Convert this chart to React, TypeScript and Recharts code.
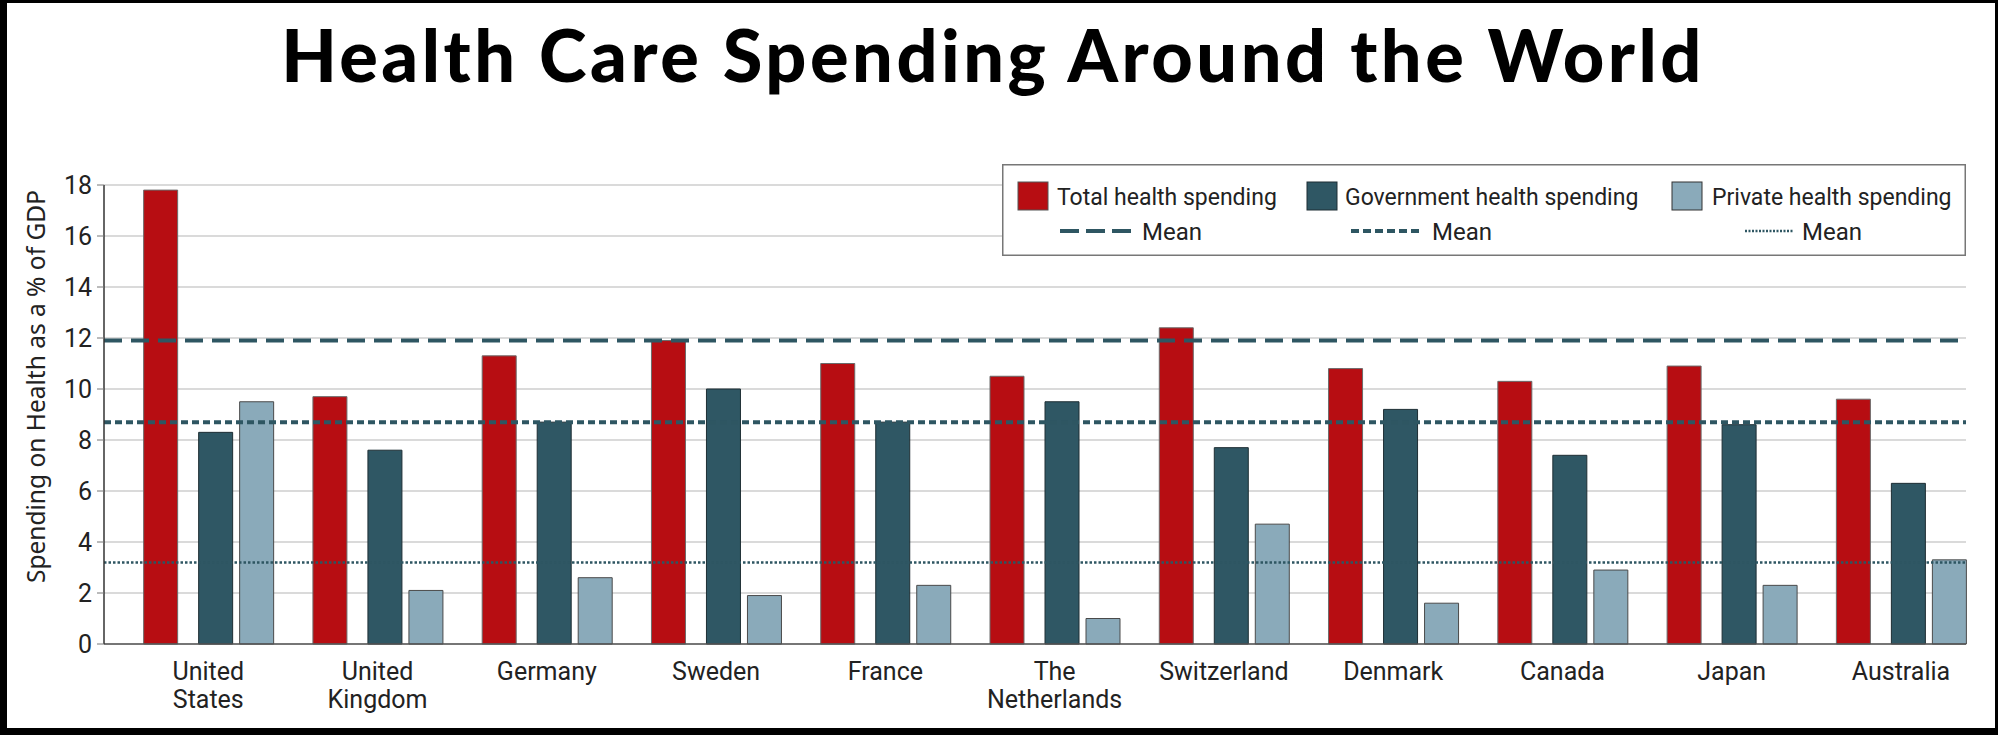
import { BarChart, Bar, XAxis, YAxis, CartesianGrid, ReferenceLine, Legend } from "recharts";

const countries = [
  "United States",
  "United Kingdom",
  "Germany",
  "Sweden",
  "France",
  "The Netherlands",
  "Switzerland",
  "Denmark",
  "Canada",
  "Japan",
  "Australia",
];
const totalSpending = [17.8, 9.7, 11.3, 11.9, 11.0, 10.5, 12.4, 10.8, 10.3, 10.9, 9.6];
const governmentSpending = [8.3, 7.6, 8.7, 10.0, 8.7, 9.5, 7.7, 9.2, 7.4, 8.6, 6.3];
const privateSpending = [9.5, 2.1, 2.6, 1.9, 2.3, 1.0, 4.7, 1.6, 2.9, 2.3, 3.3];

const totalMean = 11.9;
const governmentMean = 8.7;
const privateMean = 3.2;

const yTicks = [0, 2, 4, 6, 8, 10, 12, 14, 16, 18];

const RED = "#B70D12";
const TEAL = "#2F5764";
const LIGHT = "#8AAABA";
const MEAN = "#2E5662";

const COND = "Roboto, 'Liberation Sans Narrow', sans-serif";

const data = countries.map((name, i) => ({
  name,
  total: totalSpending[i],
  government: governmentSpending[i],
  private: privateSpending[i],
}));

const legendItems = [
  { label: "Total health spending", fill: RED, stroke: "#555", x: 16, textX: 55, meanX: 58, meanLen: 73, dash: "19 7", width: 4 },
  { label: "Government health spending", fill: TEAL, stroke: "#1e2e34", x: 305, textX: 343, meanX: 349, meanLen: 72, dash: "8 4", width: 4 },
  { label: "Private health spending", fill: LIGHT, stroke: "#333", x: 670, textX: 710, meanX: 743, meanLen: 48, dash: "2 1.5", width: 2.5 },
];

const LegendBox = () => (
  <svg width={964} height={92}>
    <rect x={0.75} y={0.75} width={962.5} height={90.5} fill="#fff" stroke="#777" strokeWidth={1.5} />
    {legendItems.map((item) => (
      <g key={item.label} fontFamily={COND} fontSize={23} fill="#222">
        <rect x={item.x} y={18} width={30} height={28} fill={item.fill} stroke={item.stroke} strokeWidth={1} />
        <text x={item.textX} y={41}>{item.label}</text>
        <line
          x1={item.meanX}
          x2={item.meanX + item.meanLen}
          y1={67}
          y2={67}
          stroke={MEAN}
          strokeWidth={item.width}
          strokeDasharray={item.dash}
        />
        <text x={item.meanX + item.meanLen + 9} y={76} fontSize={24}>Mean</text>
      </g>
    ))}
  </svg>
);

const CountryTick = ({ x, y, payload }: any) => {
  const words = String(payload.value).split(" ");
  const lines = words.length > 1 ? [words[0], words.slice(1).join(" ")] : words;
  return (
    <text x={x} y={y} textAnchor="middle" fill="#222" fontSize={25} fontFamily={COND}>
      {lines.map((line, i) => (
        <tspan key={i} x={x} dy={i === 0 ? 36 : 28}>
          {line}
        </tspan>
      ))}
    </text>
  );
};

const YTitle = ({ viewBox }: any) => {
  const cx = viewBox.x + 1;
  const cy = viewBox.y + viewBox.height / 2 - 28;
  return (
    <text
      x={cx}
      y={cy}
      transform={`rotate(-90 ${cx} ${cy})`}
      textAnchor="middle"
      fontFamily="'Noto Sans', 'Open Sans', sans-serif"
      fontSize={24.5}
      fill="#222"
    >
      Spending on Health as a % of GDP
    </text>
  );
};

export default function App() {
  return (
    <div style={{ position: "absolute", left: 0, top: 0, width: 1998, height: 735, background: "#fff" }}>
      <div
        style={{
          position: "absolute",
          left: 0,
          top: 18,
          width: 1986,
          textAlign: "center",
          fontFamily: "Lato, sans-serif",
          fontWeight: 900,
          fontSize: 72,
          letterSpacing: 3.5,
          lineHeight: "72px",
          color: "#000",
        }}
      >
        Health Care Spending Around the World
      </div>
      <BarChart
        width={1998}
        height={735}
        data={data}
        margin={{ top: 185, right: 32, bottom: 31, left: 44 }}
        barGap={7}
      >
        <CartesianGrid vertical={false} stroke="#dadada" strokeWidth={2} />
        <ReferenceLine y={totalMean} stroke={MEAN} strokeWidth={4} strokeDasharray="18 9" />
        <ReferenceLine y={governmentMean} stroke={MEAN} strokeWidth={4} strokeDasharray="7 4" />
        <ReferenceLine y={privateMean} stroke={MEAN} strokeWidth={2.5} strokeDasharray="2.5 2" />
        <XAxis
          dataKey="name"
          interval={0}
          height={60}
          tickSize={0}
          tickMargin={0}
          tickLine={false}
          axisLine={{ stroke: "#555", strokeWidth: 1.5 }}
          padding={{ left: 19.65, right: -19.65 }}
          tick={<CountryTick />}
        />
        <YAxis
          width={60}
          domain={[0, 18]}
          ticks={yTicks}
          interval={0}
          tickSize={7}
          tickMargin={5}
          axisLine={{ stroke: "#333", strokeWidth: 1.5 }}
          tickLine={{ stroke: "#777" }}
          tick={{ fill: "#222", fontSize: 25, fontFamily: COND }}
          label={{ content: <YTitle /> }}
        />
        <Legend
          layout="horizontal"
          verticalAlign="middle"
          align="center"
          content={<LegendBox />}
          wrapperStyle={{ left: 1002, top: 164, width: 964, height: 92 }}
        />
        <Bar dataKey="total" fill={RED} stroke="#6a6a6a" strokeWidth={1} barSize={34} isAnimationActive={false} />
        <Bar dataKey="spacer" fill="none" barSize={7} legendType="none" isAnimationActive={false} />
        <Bar dataKey="government" fill={TEAL} stroke="#1e2e34" strokeWidth={1} barSize={34} isAnimationActive={false} />
        <Bar dataKey="private" fill={LIGHT} stroke="#4a4a4a" strokeWidth={1} barSize={34} isAnimationActive={false} />
      </BarChart>
      <div
        style={{
          position: "absolute",
          left: 0,
          top: 0,
          width: 1998,
          height: 735,
          boxSizing: "border-box",
          borderStyle: "solid",
          borderColor: "#000",
          borderWidth: "3px 3px 7px 7px",
          pointerEvents: "none",
        }}
      />
    </div>
  );
}
